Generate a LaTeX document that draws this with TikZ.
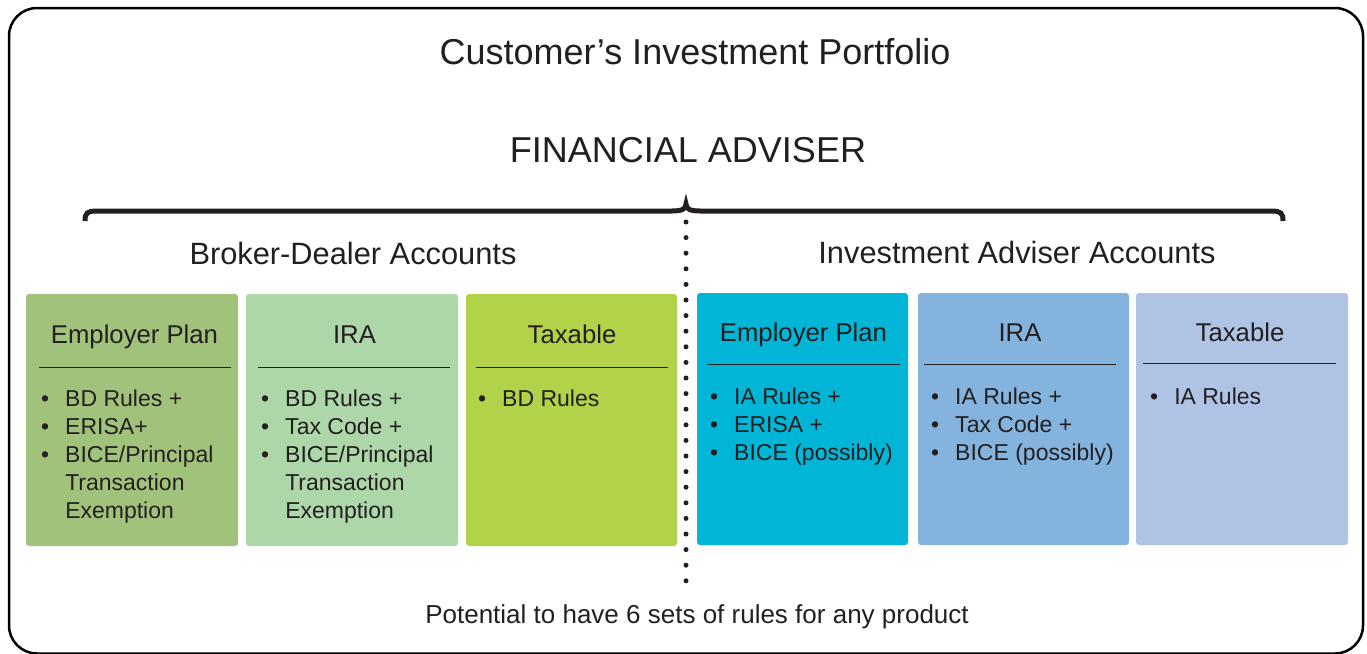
\documentclass[tikz,border=0pt]{standalone}
\usepackage{fontspec}
\setmainfont{Liberation Sans}
\usetikzlibrary{calc}
\definecolor{ink}{HTML}{231F20}
\definecolor{cA}{HTML}{A1C27B}
\definecolor{cB}{HTML}{ADD7A8}
\definecolor{cC}{HTML}{B2D24A}
\definecolor{cD}{HTML}{00B5D5}
\definecolor{cE}{HTML}{84B3DD}
\definecolor{cF}{HTML}{AFC4E5}
\newcommand{\bfs}[1]{\fontsize{#1}{#1}\selectfont}
\newcommand{\bullist}[1]{\begin{tabular}[t]{@{}l@{\hspace{16pt}}l@{}}#1\end{tabular}}
\begin{document}
\begin{tikzpicture}[x=1pt,y=-1pt,
  acct/.style={rounded corners=3pt, minimum width=211pt, minimum height=252pt, inner sep=0pt, draw=none},
  ttl/.style={anchor=base, inner sep=0pt, text=ink, font=\fontsize{25.7}{28}\selectfont},
  hdr/.style={anchor=base, inner sep=0pt, text=ink},
  blist/.style={anchor=base west, inner sep=0pt, text=ink, font=\fontsize{23}{28}\selectfont},
  rulel/.style={draw=ink, line width=1pt},
  frame/.style={draw=black, line width=2.5pt, rounded corners=28pt},
  bracel/.style={draw=ink, line width=5pt},
  dots/.style={draw=ink, line width=5pt, line cap=round, dash pattern=on 0pt off 15.6pt}]
\useasboundingbox (0,0) rectangle (1367,653);
% outer frame
\draw[frame] (9,8) rectangle (1363,653.5);
% headings
\node[hdr, font=\bfs{36}] (title) at (695,64) {Customer’s Investment Portfolio};
\node[hdr, font=\bfs{36}] (fa) at (688,162) {FINANCIAL ADVISER};
\node[hdr, font=\bfs{30.8}] (bd) at (353,264) {Broker-Dealer Accounts};
\node[hdr, font=\bfs{30.8}] (ia) at (1017,263) {Investment Adviser Accounts};
\node[hdr, font=\bfs{26}] (pot) at (697,623) {Potential to have 6 sets of rules for any product};
% brace
\draw[bracel] (85,221) .. controls (85,213) and (87,211) .. (97,211) -- (672,211)
  .. controls (682,211) and (686,209) .. (686,204)
  .. controls (686,209) and (690,211) .. (700,211) -- (1271,211)
  .. controls (1281,211) and (1283,213) .. (1283,221);
% dotted divider
\coordinate (dtop) at (686,222);
\coordinate (dbot) at (686,581);
\draw[dots] (dtop) -- (dbot);
% boxes - broker-dealer
\node[acct, fill=cA, minimum width=212pt] (b1) at (132,420) {};
\node[acct, fill=cB, minimum width=212pt] (b2) at (352,420) {};
\node[acct, fill=cC] (b3) at (571.5,420) {};
% boxes - investment adviser
\node[acct, fill=cD] (b4) at (802.5,419) {};
\node[acct, fill=cE] (b5) at (1023.5,419) {};
\node[acct, fill=cF, minimum width=212pt] (b6) at (1242,419) {};
% titles
\node[ttl] (t1) at (134.5,343) {Employer Plan};
\node[ttl] (t2) at (354.5,343) {IRA};
\node[ttl] (t3) at (572,343) {Taxable};
\node[ttl] (t4) at (803.5,341) {Employer Plan};
\node[ttl] (t5) at (1020,341) {IRA};
\node[ttl] (t6) at (1240,341) {Taxable};
% rules
\draw[rulel] (39,367.3) -- (231,367.3);
\draw[rulel] (258,367.3) -- (450,367.3);
\draw[rulel] (476,367.3) -- (668,367.3);
\draw[rulel] (707,364.7) -- (900,364.7);
\draw[rulel] (924,364.7) -- (1116,364.7);
\draw[rulel] (1143,363.5) -- (1336,363.5);
% bullet lists
\node[blist] (l1) at (41,406) {\bullist{• & BD Rules +\\ • & ERISA+\\ • & BICE/Principal\\ & Transaction\\ & Exemption}};
\node[blist] (l2) at (261,406) {\bullist{• & BD Rules +\\ • & Tax Code +\\ • & BICE/Principal\\ & Transaction\\ & Exemption}};
\node[blist] (l3) at (478,406) {\bullist{• & BD Rules}};
\node[blist] (l4) at (710,404) {\bullist{• & IA Rules +\\ • & ERISA +\\ • & BICE (possibly)}};
\node[blist] (l5) at (931,404) {\bullist{• & IA Rules +\\ • & Tax Code +\\ • & BICE (possibly)}};
\node[blist] (l6) at (1150,404) {\bullist{• & IA Rules}};
\end{tikzpicture}
\end{document}
